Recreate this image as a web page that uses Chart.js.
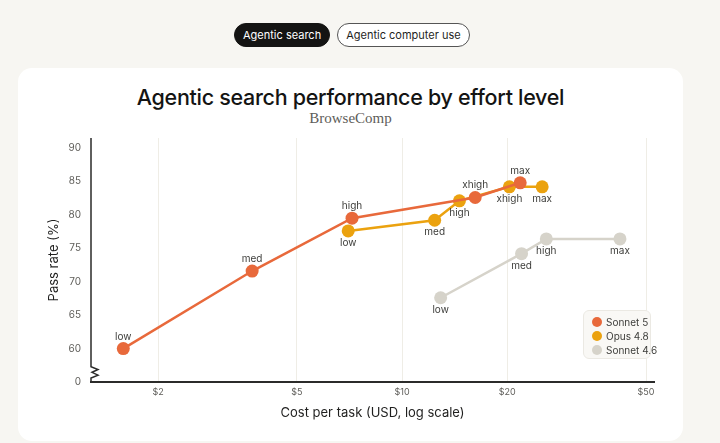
<!DOCTYPE html>
<html>
<head>
<meta charset="utf-8">
<script src="https://cdn.jsdelivr.net/npm/chart.js@4.4.1/dist/chart.umd.min.js"></script>
<style>
  html, body { margin: 0; padding: 0; width: 720px; height: 443px; overflow: hidden; background: #f7f6f2; font-family: 'Inter', sans-serif; }
  .tabs { position: absolute; top: 23px; left: 234px; display: flex; gap: 7px; }
  .tab { height: 22px; line-height: 22px; padding: 0 8px; border-radius: 12px; font-size: 11px; color: #1f1f1e; border: 1px solid #555; background: #fff; }
  .tab.on { background: #141413; color: #fff; border-color: #141413; }
  .card { position: absolute; left: 18px; top: 68px; width: 665px; height: 373px; background: #fff; border-radius: 14px; }
  .title { position: absolute; left: 18px; width: 665px; top: 84px; text-align: center; font-size: 21.5px; font-weight: 500; color: #141413; letter-spacing: -0.3px; }
  .sub { position: absolute; left: 18px; width: 665px; top: 110px; text-align: center; font-family: 'Liberation Serif', serif; font-size: 15px; color: #5e5d59; }
  #wrap { position: absolute; left: 0; top: 0; width: 720px; height: 443px; }
  .legend { position: absolute; left: 583px; top: 310px; width: 68px; height: 49px; background: #f9f8f5; border: 1px solid #ebe9e3; border-radius: 6px; box-sizing: border-box; padding: 4px 0 0 8px; }
  .legend div { font-size: 10px; color: #3d3d3a; height: 14px; line-height: 14px; white-space: nowrap; }
  .legend span { display: inline-block; width: 10px; height: 10px; border-radius: 50%; vertical-align: -1px; margin-right: 4px; }
</style>
</head>
<body>
<div class="tabs"><div class="tab on">Agentic search</div><div class="tab">Agentic computer use</div></div>
<div class="card"></div>
<div class="title">Agentic search performance by effort level</div>
<div class="sub">BrowseComp</div>
<div id="wrap"><canvas id="chart" width="720" height="443"></canvas></div>
<div class="legend" id="legend"></div>
<script>
// effort levels and values
const sonnet5Effort = ['low', 'med', 'high', 'xhigh', 'max'];
const sonnet5Cost = [1.59, 3.72, 7.19, 16.2, 21.8];
const sonnet5Pass = [60, 71.6, 79.5, 82.6, 84.8];

const opusEffort = ['low', 'med', 'high', 'xhigh', 'max'];
const opusCost = [7.01, 12.4, 14.6, 20.3, 25.2];
const opusPass = [77.6, 79.2, 82.1, 84.2, 84.2];

const sonnet46Effort = ['low', 'med', 'high', 'max'];
const sonnet46Cost = [12.9, 22.0, 25.9, 42.1];
const sonnet46Pass = [67.6, 74.2, 76.4, 76.4];

const xTicks = [2, 5, 10, 20, 50];
const yTicks = [55, 60, 65, 70, 75, 80, 85, 90];
const Y_BREAK = 55; // drawn as "0", below the axis break

const COLORS = { sonnet5: '#e8693b', opus: '#eba20f', sonnet46: '#d6d3ca' };

function pts(xs, ys) { return xs.map((x, i) => ({ x: x, y: ys[i] })); }

function series(label, xs, ys, efforts, color, labelPos) {
    return {
        label: label,
        data: pts(xs, ys),
        efforts: efforts,
        labelPos: labelPos,
        borderColor: color,
        backgroundColor: color,
        pointBackgroundColor: color,
        pointBorderWidth: 0,
        pointRadius: 6.5,
        borderWidth: 2.5,
        tension: 0
    };
}

// effort labels above / below each point
const effortLabels = {
    id: 'effortLabels',
    afterDatasetsDraw(chart) {
        const ctx = chart.ctx;
        ctx.save();
        ctx.font = '10px Inter, sans-serif';
        ctx.fillStyle = '#3d3d3a';
        ctx.textAlign = 'center';
        ctx.textBaseline = 'middle';
        chart.data.datasets.forEach((ds, i) => {
            const meta = chart.getDatasetMeta(i);
            meta.data.forEach((el, j) => {
                const dy = ds.labelPos[j] === 'above' ? -12 : 12;
                ctx.fillText(ds.efforts[j], el.x, el.y + dy);
            });
        });
        ctx.restore();
    }
};

// y axis line with a zigzag break between 0 and 60
const brokenAxis = {
    id: 'brokenAxis',
    afterDraw(chart) {
        const { ctx, chartArea } = chart;
        const y = chart.scales.y;
        const L = chartArea.left;
        const b1 = y.getPixelForValue(57.3);
        const b2 = y.getPixelForValue(55.6);
        const h = (b2 - b1) / 4;
        ctx.save();
        ctx.strokeStyle = '#2b2b2a';
        ctx.lineWidth = 1.5;
        ctx.lineJoin = 'miter';
        ctx.beginPath();
        ctx.moveTo(L, chartArea.top);
        ctx.lineTo(L, b1);
        ctx.lineTo(L + 7, b1 + h);
        ctx.lineTo(L + 1, b1 + 2 * h);
        ctx.lineTo(L + 7, b1 + 3 * h);
        ctx.lineTo(L, b2);
        ctx.lineTo(L, chartArea.bottom);
        ctx.stroke();
        ctx.restore();
    }
};

new Chart(document.getElementById('chart'), {
    type: 'line',
    data: {
        datasets: [
            series('Sonnet 5', sonnet5Cost, sonnet5Pass, sonnet5Effort, COLORS.sonnet5, ['above', 'above', 'above', 'above', 'above']),
            series('Opus 4.8', opusCost, opusPass, opusEffort, COLORS.opus, ['below', 'below', 'below', 'below', 'below']),
            series('Sonnet 4.6', sonnet46Cost, sonnet46Pass, sonnet46Effort, COLORS.sonnet46, ['below', 'below', 'below', 'below'])
        ]
    },
    options: {
        responsive: false,
        animation: false,
        devicePixelRatio: 1,
        layout: { padding: { left: 46, top: 138, right: 66, bottom: 22 } },
        plugins: { legend: { display: false }, tooltip: { enabled: false } },
        scales: {
            x: {
                type: 'logarithmic',
                min: 1.285,
                max: 52.7,
                afterBuildTicks: (s) => { s.ticks = xTicks.map(v => ({ value: v })); },
                afterFit: (s) => { s.height = 39; },
                ticks: {
                    callback: (v) => '$' + v,
                    font: { size: 9, family: 'Inter' },
                    color: '#5e5d59',
                    padding: 5,
                    maxRotation: 0,
                    autoSkip: false
                },
                grid: { color: '#efede6', lineWidth: 1, drawTicks: false },
                border: { color: '#2b2b2a', width: 2 },
                title: {
                    display: true,
                    text: 'Cost per task (USD, log scale)',
                    font: { size: 13, family: 'Inter' },
                    color: '#1f1f1e',
                    padding: 0
                }
            },
            y: {
                min: 55,
                max: 91.5,
                afterBuildTicks: (s) => { s.ticks = yTicks.map(v => ({ value: v })); },
                afterFit: (s) => { s.width = 45; },
                ticks: {
                    callback: (v) => v === Y_BREAK ? '0' : v,
                    font: { size: 10, family: 'Inter' },
                    color: '#5e5d59',
                    padding: 10
                },
                grid: { display: false, drawTicks: false },
                border: { display: false },
                title: {
                    display: true,
                    text: 'Pass rate (%)',
                    font: { size: 13, family: 'Inter' },
                    color: '#1f1f1e',
                    padding: 0
                }
            }
        }
    },
    plugins: [effortLabels, brokenAxis]
});

// html legend
const legendItems = [['Sonnet 5', COLORS.sonnet5], ['Opus 4.8', COLORS.opus], ['Sonnet 4.6', COLORS.sonnet46]];
document.getElementById('legend').innerHTML = legendItems
    .map(([name, c]) => `<div><span style="background:${c}"></span>${name}</div>`).join('');
</script>
</body>
</html>
